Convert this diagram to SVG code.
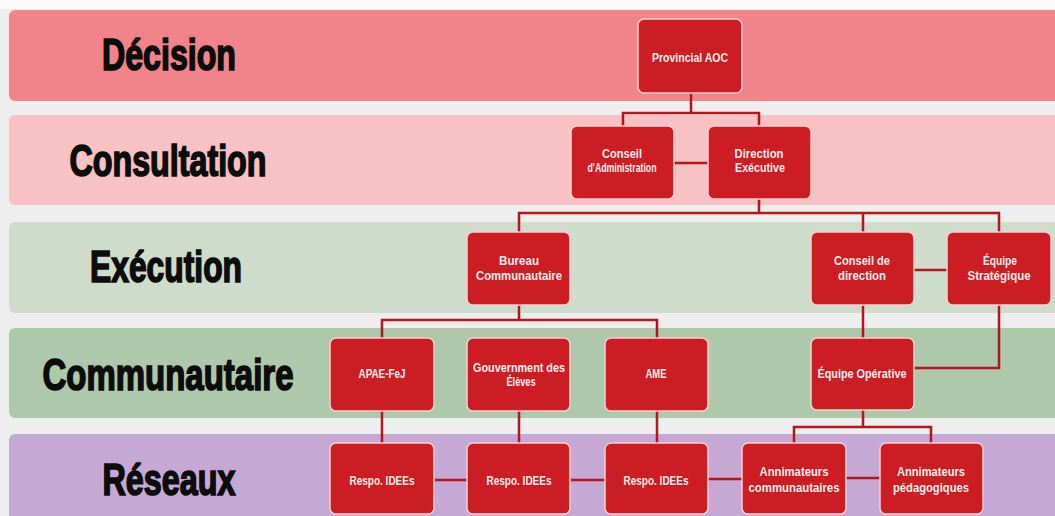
<svg xmlns="http://www.w3.org/2000/svg" width="1055" height="516" viewBox="0 0 1055 516">
<style>
.band{stroke:none}
.lbl{font-family:"Liberation Sans","DejaVu Sans",sans-serif;font-weight:bold;font-size:34px;fill:#0d0d0d;stroke:#0d0d0d;stroke-width:1.3;text-anchor:middle}
.node rect{fill:#cc1d25;stroke:#f6cfcf;stroke-width:1.5}
.node text{font-family:"Liberation Sans","DejaVu Sans",sans-serif;font-weight:bold;font-size:13px;fill:#fbecec;text-anchor:middle}
.conn{fill:none;stroke:#b3161d;stroke-width:2.5}
</style>
<rect x="0" y="0" width="1055" height="516" fill="#eeeeee"/>
<rect x="0" y="0" width="1055" height="9" fill="#fafafa"/>
<g id="bands">
<rect class="band" x="9" y="10" width="1060" height="91" rx="6" fill="#f1848a"/>
<rect class="band" x="9" y="115" width="1060" height="90" rx="6" fill="#f8c1c3"/>
<rect class="band" x="9" y="222" width="1060" height="91" rx="6" fill="#cfdccc"/>
<rect class="band" x="9" y="328" width="1060" height="90" rx="6" fill="#aec8ab"/>
<rect class="band" x="9" y="434" width="1060" height="90" rx="6" fill="#c5a9d4"/>
</g>
<g id="labels">
<text class="lbl" transform="translate(169,70) scale(1,1.32)" x="0" y="0" textLength="134" lengthAdjust="spacingAndGlyphs">Décision</text>
<text class="lbl" transform="translate(168,176) scale(1,1.32)" x="0" y="0" textLength="197" lengthAdjust="spacingAndGlyphs">Consultation</text>
<text class="lbl" transform="translate(166,282) scale(1,1.32)" x="0" y="0" textLength="152" lengthAdjust="spacingAndGlyphs">Exécution</text>
<text class="lbl" transform="translate(168,390) scale(1,1.32)" x="0" y="0" textLength="251" lengthAdjust="spacingAndGlyphs">Communautaire</text>
<text class="lbl" transform="translate(169,495) scale(1,1.32)" x="0" y="0" textLength="133" lengthAdjust="spacingAndGlyphs">Réseaux</text>
</g>
<g id="connectors">
<path class="conn" d="M691 93V113M623 126V113H759V126"/>
<path class="conn" d="M674 163H708"/>
<path class="conn" d="M759 199V213M519 232V213H999V232M863 213V232"/>
<path class="conn" d="M914 270H947"/>
<path class="conn" d="M519 305V320M382 338V320H657V338"/>
<path class="conn" d="M863 305V338"/>
<path class="conn" d="M999 305V368H914"/>
<path class="conn" d="M863 410V427M794 443V427H931V443"/>
<path class="conn" d="M382 411V443M519 411V443M657 411V443"/>
<path class="conn" d="M435 480H467M570 480H605M708 479H742M846 478H880"/>
</g>
<g id="n-provincial" class="node"><rect x="638" y="19" width="104" height="74" rx="6"/><text x="690" y="62" textLength="76" lengthAdjust="spacingAndGlyphs">Provincial AOC</text></g>
<g id="n-conseil-admin" class="node"><rect x="571" y="126" width="103" height="73" rx="6"/><text x="622" y="158" textLength="40" lengthAdjust="spacingAndGlyphs">Conseil</text><text x="622" y="172" textLength="69" lengthAdjust="spacingAndGlyphs">d'Administration</text></g>
<g id="n-direction" class="node"><rect x="708" y="126" width="103" height="73" rx="6"/><text x="759" y="158" textLength="49" lengthAdjust="spacingAndGlyphs">Direction</text><text x="760" y="172" textLength="50" lengthAdjust="spacingAndGlyphs">Exécutive</text></g>
<g id="n-bureau" class="node"><rect x="467" y="232" width="103" height="73" rx="6"/><text x="519" y="265" textLength="40" lengthAdjust="spacingAndGlyphs">Bureau</text><text x="519" y="280" textLength="86" lengthAdjust="spacingAndGlyphs">Communautaire</text></g>
<g id="n-conseil-dir" class="node"><rect x="811" y="232" width="103" height="73" rx="6"/><text x="862" y="265" textLength="56" lengthAdjust="spacingAndGlyphs">Conseil de</text><text x="862" y="280" textLength="48" lengthAdjust="spacingAndGlyphs">direction</text></g>
<g id="n-equipe-strat" class="node"><rect x="947" y="232" width="104" height="73" rx="6"/><text x="1000" y="265" textLength="34" lengthAdjust="spacingAndGlyphs">Équipe</text><text x="999" y="280" textLength="63" lengthAdjust="spacingAndGlyphs">Stratégique</text></g>
<g id="n-apae" class="node"><rect x="330" y="338" width="104" height="73" rx="6"/><text x="382" y="378" textLength="47" lengthAdjust="spacingAndGlyphs">APAE-FeJ</text></g>
<g id="n-gouv" class="node"><rect x="467" y="338" width="103" height="73" rx="6"/><text x="519" y="372" textLength="92" lengthAdjust="spacingAndGlyphs">Gouvernment des</text><text x="521" y="386" textLength="29" lengthAdjust="spacingAndGlyphs">Élèves</text></g>
<g id="n-ame" class="node"><rect x="605" y="338" width="103" height="73" rx="6"/><text x="656" y="378" textLength="21" lengthAdjust="spacingAndGlyphs">AME</text></g>
<g id="n-equipe-op" class="node"><rect x="811" y="338" width="103" height="72" rx="6"/><text x="862" y="378" textLength="89" lengthAdjust="spacingAndGlyphs">Équipe Opérative</text></g>
<g id="n-respo1" class="node"><rect x="330" y="443" width="104" height="71" rx="6"/><text x="382" y="485" textLength="65" lengthAdjust="spacingAndGlyphs">Respo. IDEEs</text></g>
<g id="n-respo2" class="node"><rect x="467" y="443" width="103" height="71" rx="6"/><text x="519" y="485" textLength="65" lengthAdjust="spacingAndGlyphs">Respo. IDEEs</text></g>
<g id="n-respo3" class="node"><rect x="605" y="443" width="103" height="71" rx="6"/><text x="656" y="485" textLength="65" lengthAdjust="spacingAndGlyphs">Respo. IDEEs</text></g>
<g id="n-anim-comm" class="node"><rect x="742" y="443" width="104" height="71" rx="6"/><text x="794" y="476" textLength="69" lengthAdjust="spacingAndGlyphs">Annimateurs</text><text x="794" y="492" textLength="91" lengthAdjust="spacingAndGlyphs">communautaires</text></g>
<g id="n-anim-ped" class="node"><rect x="880" y="443" width="103" height="71" rx="6"/><text x="931" y="476" textLength="68" lengthAdjust="spacingAndGlyphs">Annimateurs</text><text x="931" y="492" textLength="76" lengthAdjust="spacingAndGlyphs">pédagogiques</text></g>
</svg>
